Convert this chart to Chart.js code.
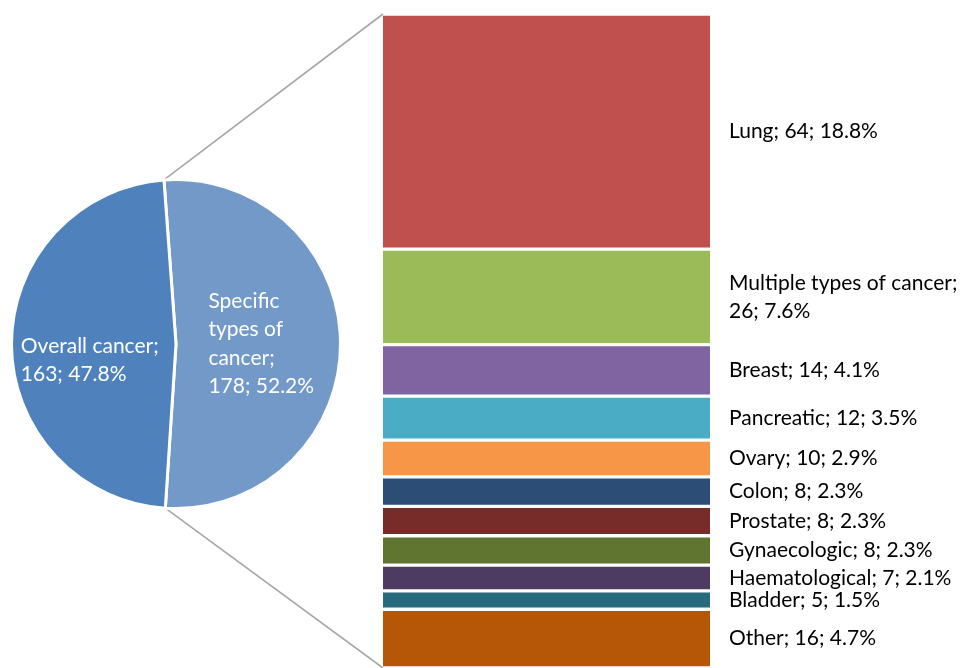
<!DOCTYPE html>
<html>
<head>
<meta charset="utf-8">
<script src="https://cdn.jsdelivr.net/npm/chart.js@4.4.0/dist/chart.umd.min.js"></script>
<style>
  body { margin: 0; background: #fff; }
  .wrap { position: relative; width: 974px; height: 668px; }
  .wrap canvas { position: absolute; left: 0; top: 0; }
</style>
</head>
<body>
<div class="wrap">
  <canvas id="bar" width="974" height="668"></canvas>
  <canvas id="pie" width="974" height="668"></canvas>
</div>
<script>
// pie: overall vs specific
const pieNames = ['Specific types of cancer', 'Overall cancer'];
const pieValues = [178, 163];
const piePct = [52.2, 47.8];
const pieColors = ['#7399C9', '#4F81BD'];

// bar: breakdown of the specific types
const types = ['Lung', 'Multiple types of cancer', 'Breast', 'Pancreatic', 'Ovary', 'Colon',
  'Prostate', 'Gynaecologic', 'Haematological', 'Bladder', 'Other'];
const typeValues = [64, 26, 14, 12, 10, 8, 8, 8, 7, 5, 16];
const typePct = [18.8, 7.6, 4.1, 3.5, 2.9, 2.3, 2.3, 2.3, 2.1, 1.5, 4.7];
const typeColors = ['#C0504D', '#9BBB59', '#8064A2', '#4BACC6', '#F79646', '#2C4D75',
  '#772C2A', '#5F7530', '#4D3B62', '#276A7C', '#B65708'];

const FONT = '21px Lato';

// simple word wrap like the office data labels do
const wrap = (ctx, text, maxW) => {
  const words = text.split(' ');
  const lines = [];
  let cur = '';
  for (const w of words) {
    const t = cur ? cur + ' ' + w : w;
    if (cur && ctx.measureText(t).width > maxW) {
      lines.push(cur);
      cur = w;
    } else cur = t;
  }
  lines.push(cur);
  return lines;
};

const barLabels = {
  id: 'barLabels',
  afterDatasetsDraw(chart) {
    const ctx = chart.ctx;
    ctx.save();
    ctx.font = FONT;
    ctx.fillStyle = '#000';
    ctx.textBaseline = 'middle';
    chart.data.datasets.forEach((ds, i) => {
      const el = chart.getDatasetMeta(i).data[0];
      const cy = (el.y + el.base) / 2;
      const lines = wrap(ctx, `${types[i]}; ${typeValues[i]}; ${typePct[i]}%`, 250);
      const lh = 28;
      lines.forEach((t, k) => {
        ctx.fillText(t, el.x + el.width / 2 + 19, cy + (k - (lines.length - 1) / 2) * lh);
      });
    });
    ctx.restore();
  }
};

const barChart = new Chart(document.getElementById('bar'), {
  type: 'bar',
  data: {
    labels: ['Specific'],
    datasets: typeValues.map((v, i) => ({
      label: types[i],
      data: [v],
      backgroundColor: typeColors[i],
      borderColor: '#fff',
      borderWidth: { top: 2, bottom: 2, left: 0, right: 0 },
      borderSkipped: false,
      barPercentage: 1,
      categoryPercentage: 1
    }))
  },
  options: {
    responsive: false,
    animation: false,
    layout: { padding: { left: 383, right: 264, top: 14, bottom: 0 } },
    plugins: { legend: { display: false }, tooltip: { enabled: false } },
    scales: {
      x: { stacked: true, display: false },
      y: { stacked: true, display: false, reverse: true, min: 0, max: 178 }
    }
  },
  plugins: [barLabels]
});

const pieExtras = {
  id: 'pieExtras',
  beforeDatasetsDraw(chart) {
    // connector lines from the specific slice to the bar ends
    const arc = chart.getDatasetMeta(0).data[0];
    const r = arc.outerRadius;
    const yScale = barChart.scales.y;
    const bar = barChart.getDatasetMeta(0).data[0];
    const bx = bar.x - bar.width / 2;
    const ctx = chart.ctx;
    ctx.save();
    ctx.strokeStyle = '#A6A6A6';
    ctx.lineWidth = 1.6;
    ctx.beginPath();
    ctx.moveTo(arc.x + r * Math.cos(arc.startAngle), arc.y + r * Math.sin(arc.startAngle));
    ctx.lineTo(bx, yScale.getPixelForValue(0));
    ctx.moveTo(arc.x + r * Math.cos(arc.endAngle), arc.y + r * Math.sin(arc.endAngle));
    ctx.lineTo(bx, yScale.getPixelForValue(178));
    ctx.stroke();
    ctx.restore();
  },
  afterDatasetsDraw(chart) {
    const ctx = chart.ctx;
    ctx.save();
    ctx.font = FONT;
    ctx.fillStyle = '#fff';
    ctx.textBaseline = 'middle';
    const maxW = [110, 155];
    chart.getDatasetMeta(0).data.forEach((arc, i) => {
      const mid = (arc.startAngle + arc.endAngle) / 2;
      const cx = arc.x + arc.outerRadius * 0.5 * Math.cos(mid) + (i === 1 ? -4 : 3);
      const cy = arc.y + arc.outerRadius * 0.5 * Math.sin(mid) + (i === 1 ? 16 : 0);
      const lines = wrap(ctx, `${pieNames[i]}; ${pieValues[i]}; ${piePct[i]}%`, maxW[i]);
      const w = Math.max(...lines.map(t => ctx.measureText(t).width));
      const lh = 28.5;
      lines.forEach((t, k) => {
        ctx.fillText(t, cx - w / 2, cy + (k - (lines.length - 1) / 2) * lh);
      });
    });
    ctx.restore();
  }
};

new Chart(document.getElementById('pie'), {
  type: 'pie',
  data: {
    labels: pieNames,
    datasets: [{
      data: pieValues,
      backgroundColor: pieColors,
      borderColor: '#fff',
      borderWidth: 3
    }]
  },
  options: {
    responsive: false,
    animation: false,
    rotation: -4.2,
    layout: { padding: { left: 10, right: 632, top: 178, bottom: 158 } },
    plugins: { legend: { display: false }, tooltip: { enabled: false } }
  },
  plugins: [pieExtras]
});
</script>
</body>
</html>
